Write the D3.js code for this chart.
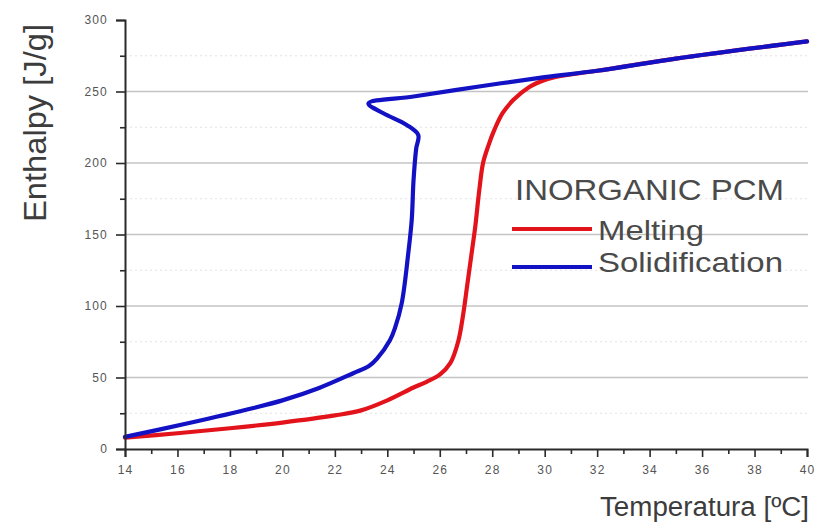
<!DOCTYPE html>
<html>
<head>
<meta charset="utf-8">
<script src="https://cdn.jsdelivr.net/npm/d3@7/dist/d3.min.js"></script>
<style>
  html, body { margin: 0; padding: 0; background: #fff; }
  svg { display: block; }
  text { font-family: "Liberation Sans", Arial, sans-serif; }
</style>
</head>
<body>
<svg id="chart" width="827" height="523"></svg>
<script>
// Enthalpy–temperature curves of an inorganic phase change material
const meltingTemp     = [14, 16, 18, 20, 22, 23, 24, 25, 25.5, 26, 26.4, 26.7, 26.9, 27.05, 27.2, 27.35, 27.5, 27.65, 27.85, 28.1, 28.4, 28.8, 29.4, 30, 30.6, 32, 35, 40];
const meltingEnthalpy = [8, 11, 14.5, 18.5, 23.5, 27, 34, 43, 47, 52, 60, 75, 95, 115, 135, 155, 180, 200, 212, 224, 235, 244, 253, 258, 260.8, 264.5, 273, 285];

const solidTemp     = [14, 16.4, 18.9, 20, 21.4, 22.7, 23.3, 23.6, 24.1, 24.3, 24.55, 24.8, 24.93, 25.0, 25.1, 25.18, 24.74, 23.85, 23.28, 25, 27.5, 30, 32, 35, 40];
const solidEnthalpy = [8.5, 18, 28.7, 34, 42.7, 53, 58, 63, 76, 85, 102, 137, 160, 188, 210, 219.6, 226.6, 234.8, 241.7, 246.5, 253.5, 260, 264.5, 273, 285];

const xTicks = [14, 16, 18, 20, 22, 24, 26, 28, 30, 32, 34, 36, 38, 40];
const yTicks = [0, 50, 100, 150, 200, 250, 300];
const xMinor = [15, 17, 19, 21, 23, 25, 27, 29, 31, 33, 35, 37, 39];
const yMinor = [25, 75, 125, 175, 225, 275];
const gridValues = [50, 100, 150, 200, 250];

const legendTitle = "INORGANIC PCM";
const seriesNames = ["Melting", "Solidification"];
const seriesColors = ["#e3131b", "#1212c4"];

const svg = d3.select("#chart");
const plotLeft = 125, plotRight = 807, plotTop = 20, plotBottom = 449;

const x = d3.scaleLinear().domain([14, 40]).range([plotLeft, plotRight]);
const y = d3.scaleLinear().domain([0, 300]).range([plotBottom, plotTop]);

// faint dotted lines at the minor enthalpy steps
svg.append("g").selectAll("line").data(yMinor).join("line")
  .attr("x1", plotLeft).attr("x2", plotRight + 1)
  .attr("y1", d => y(d)).attr("y2", d => y(d))
  .attr("stroke", "#e2e2e2").attr("stroke-width", 1.2)
  .attr("stroke-dasharray", "2,3");

// horizontal grid
svg.append("g").selectAll("line").data(gridValues).join("line")
  .attr("x1", plotLeft).attr("x2", plotRight + 1)
  .attr("y1", d => y(d)).attr("y2", d => y(d))
  .attr("stroke", "#c4c4c4").attr("stroke-width", 1.6);

// curves
const line = d3.line()
  .x(d => x(d[0])).y(d => y(d[1]))
  .curve(d3.curveCatmullRom.alpha(0.5));

const melting = meltingTemp.map((t, i) => [t, meltingEnthalpy[i]]);
const solid = solidTemp.map((t, i) => [t, solidEnthalpy[i]]);

svg.append("path").datum(melting)
  .attr("d", line).attr("fill", "none")
  .attr("stroke", seriesColors[0]).attr("stroke-width", 4.2)
  .attr("stroke-linejoin", "round").attr("stroke-linecap", "round");

svg.append("path").datum(solid)
  .attr("d", line).attr("fill", "none")
  .attr("stroke", seriesColors[1]).attr("stroke-width", 4.2)
  .attr("stroke-linejoin", "round").attr("stroke-linecap", "round");

// axes
const axisColor = "#2a2a2a";
const xAxis = svg.append("g").attr("transform", `translate(0,${plotBottom})`)
  .call(d3.axisBottom(x).tickValues(xTicks).tickSize(8).tickPadding(8).tickFormat(d3.format("d")));
const xMinorAxis = svg.append("g").attr("transform", `translate(0,${plotBottom})`)
  .call(d3.axisBottom(x).tickValues(xMinor).tickSize(5).tickFormat(""));
const yAxis = svg.append("g").attr("transform", `translate(${plotLeft},0)`)
  .call(d3.axisLeft(y).tickValues(yTicks).tickSize(9).tickPadding(8).tickFormat(d3.format("d")));
const yMinorAxis = svg.append("g").attr("transform", `translate(${plotLeft},0)`)
  .call(d3.axisLeft(y).tickValues(yMinor).tickSize(5).tickFormat(""));

[xAxis, xMinorAxis, yAxis, yMinorAxis].forEach(g => {
  g.select(".domain").attr("stroke", axisColor).attr("stroke-width", 2);
  g.selectAll(".tick line").attr("stroke", axisColor).attr("stroke-width", 1.6);
  g.selectAll(".tick text")
    .attr("fill", "#555").attr("font-size", 12)
    .attr("letter-spacing", 1.2)
    .attr("font-family", "'Liberation Sans', Arial, sans-serif");
});
xMinorAxis.select(".domain").remove();
yMinorAxis.select(".domain").remove();

// axis titles
svg.append("text")
  .attr("transform", `translate(46,${(23 + 223) / 2}) rotate(-90)`)
  .attr("text-anchor", "middle")
  .attr("fill", "#3c3c3c").attr("font-size", 31)
  .attr("textLength", 198).attr("lengthAdjust", "spacingAndGlyphs")
  .text("Enthalpy [J/g]");

svg.append("text")
  .attr("x", 600).attr("y", 516)
  .attr("fill", "#3c3c3c").attr("font-size", 27)
  .attr("textLength", 209).attr("lengthAdjust", "spacingAndGlyphs")
  .text("Temperatura [ºC]");

// legend
const legend = svg.append("g");
legend.append("text")
  .attr("x", 515).attr("y", 200)
  .attr("fill", "#4a4a4a").attr("font-size", 30)
  .attr("textLength", 269).attr("lengthAdjust", "spacingAndGlyphs")
  .text(legendTitle);

const legendRows = [240, 272];
const legendLines = [229, 267];
const legendWidths = [106, 185];
seriesNames.forEach((name, i) => {
  legend.append("line")
    .attr("x1", 512).attr("x2", 592)
    .attr("y1", legendLines[i]).attr("y2", legendLines[i])
    .attr("stroke", seriesColors[i]).attr("stroke-width", 4.2);
  legend.append("text")
    .attr("x", 598).attr("y", legendRows[i])
    .attr("fill", "#4a4a4a").attr("font-size", 28.5)
    .attr("textLength", legendWidths[i]).attr("lengthAdjust", "spacingAndGlyphs")
    .text(name);
});
</script>
</body>
</html>
